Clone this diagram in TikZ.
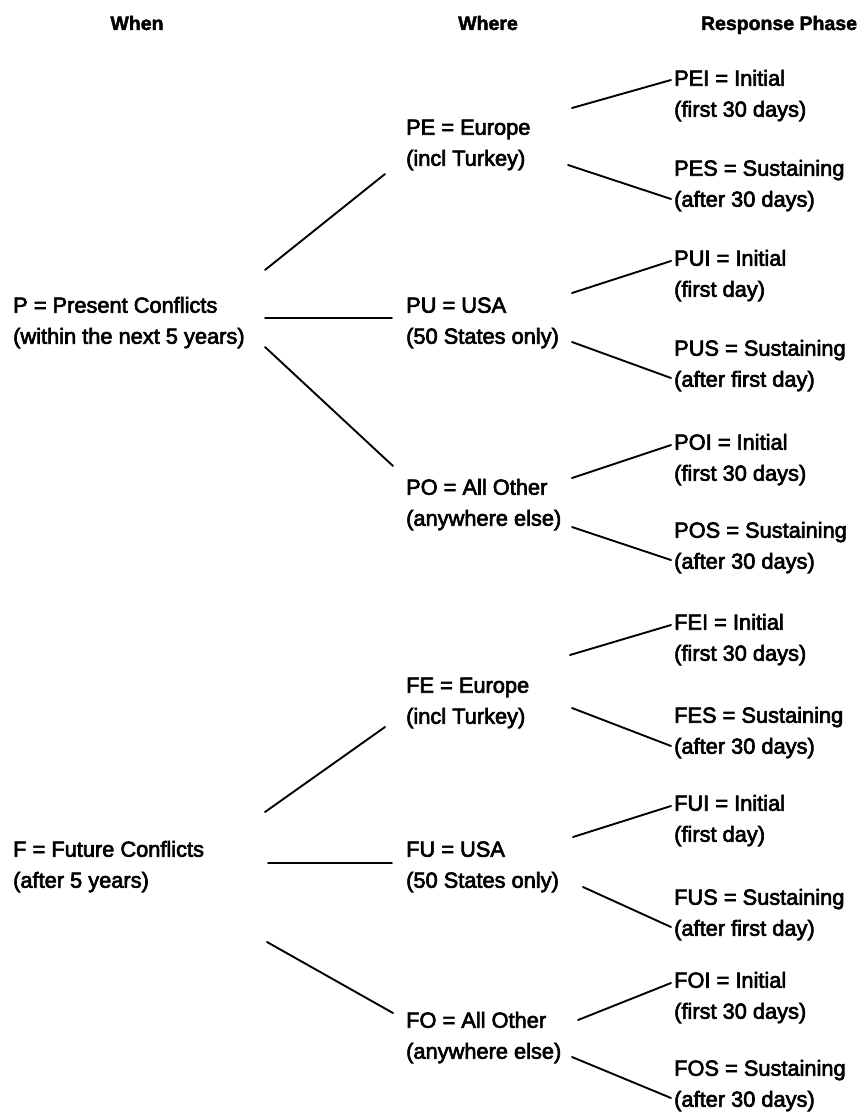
\documentclass[tikz,border=0pt]{standalone}
\usepackage{fontspec}
\setmainfont{Liberation Sans}
\newfontfamily\bodyfont[FakeBold=3]{Liberation Sans}
\newfontfamily\headfont[FakeBold=2]{Liberation Sans Bold}
\begin{document}
\begin{tikzpicture}[x=1pt,y=-1pt,
  lbl/.style={font=\bodyfont\fontsize{21.8}{31}\selectfont, align=left, inner sep=0pt, anchor=west},
  hdr/.style={font=\headfont\fontsize{19.5}{23}\selectfont, inner sep=0pt, anchor=base},
  conn/.style={line width=1.9pt, line cap=round}]
\useasboundingbox (0,0) rectangle (862,1115);
% headers
\node[hdr] (hwhen) at (137,30) {When};
\node[hdr] (hwhere) at (488,30) {Where};
\node[hdr] (hresp) at (779,30) {Response Phase};
% when
\node[lbl] (p) at (13,322) {\strut P = Present Conflicts\\\strut(within the next 5 years)};
\node[lbl] (f) at (13,866) {\strut F = Future Conflicts\\\strut(after 5 years)};
% where
\node[lbl] (pe) at (406,144) {\strut PE = Europe\\\strut(incl Turkey)};
\node[lbl] (pu) at (406,322) {\strut PU = USA\\\strut(50 States only)};
\node[lbl] (po) at (406,504) {\strut PO = All Other\\\strut(anywhere else)};
\node[lbl] (fe) at (406,702) {\strut FE = Europe\\\strut(incl Turkey)};
\node[lbl] (fu) at (406,866) {\strut FU = USA\\\strut(50 States only)};
\node[lbl] (fo) at (406,1037) {\strut FO = All Other\\\strut(anywhere else)};
% response phase
\node[lbl] (pei) at (674,95) {\strut PEI = Initial\\\strut(first 30 days)};
\node[lbl] (pes) at (674,185) {\strut PES = Sustaining\\\strut(after 30 days)};
\node[lbl] (pui) at (674,275) {\strut PUI = Initial\\\strut(first day)};
\node[lbl] (pus) at (674,365) {\strut PUS = Sustaining\\\strut(after first day)};
\node[lbl] (poi) at (674,459) {\strut POI = Initial\\\strut(first 30 days)};
\node[lbl] (pos) at (674,547) {\strut POS = Sustaining\\\strut(after 30 days)};
\node[lbl] (fei) at (674,639) {\strut FEI = Initial\\\strut(first 30 days)};
\node[lbl] (fes) at (674,732) {\strut FES = Sustaining\\\strut(after 30 days)};
\node[lbl] (fui) at (674,820) {\strut FUI = Initial\\\strut(first day)};
\node[lbl] (fus) at (674,914) {\strut FUS = Sustaining\\\strut(after first day)};
\node[lbl] (foi) at (674,997) {\strut FOI = Initial\\\strut(first 30 days)};
\node[lbl] (fos) at (674,1085) {\strut FOS = Sustaining\\\strut(after 30 days)};
% connector end points
\coordinate (p-pe-a) at (265,270);  \coordinate (p-pe-b) at (385,174);
\coordinate (p-pu-a) at (265,318);  \coordinate (p-pu-b) at (392,318);
\coordinate (p-po-a) at (265,347);  \coordinate (p-po-b) at (393,466);
\coordinate (pe-pei-a) at (572,108); \coordinate (pe-pei-b) at (671,80);
\coordinate (pe-pes-a) at (568,165); \coordinate (pe-pes-b) at (671,199);
\coordinate (pu-pui-a) at (572,293); \coordinate (pu-pui-b) at (671,261);
\coordinate (pu-pus-a) at (572,342); \coordinate (pu-pus-b) at (671,378);
\coordinate (po-poi-a) at (572,478); \coordinate (po-poi-b) at (671,445);
\coordinate (po-pos-a) at (572,527); \coordinate (po-pos-b) at (671,560);
\coordinate (f-fe-a) at (265,812);  \coordinate (f-fe-b) at (385,727);
\coordinate (f-fu-a) at (268,863);  \coordinate (f-fu-b) at (392,863);
\coordinate (f-fo-a) at (267,942);  \coordinate (f-fo-b) at (393,1013);
\coordinate (fe-fei-a) at (570,655); \coordinate (fe-fei-b) at (671,625);
\coordinate (fe-fes-a) at (572,708); \coordinate (fe-fes-b) at (671,746);
\coordinate (fu-fui-a) at (573,837); \coordinate (fu-fui-b) at (671,806);
\coordinate (fu-fus-a) at (583,887); \coordinate (fu-fus-b) at (671,927);
\coordinate (fo-foi-a) at (578,1020); \coordinate (fo-foi-b) at (671,983);
\coordinate (fo-fos-a) at (572,1057); \coordinate (fo-fos-b) at (671,1098);
% connectors
\foreach \a/\b in {p/pe,p/pu,p/po,pe/pei,pe/pes,pu/pui,pu/pus,po/poi,po/pos,
                   f/fe,f/fu,f/fo,fe/fei,fe/fes,fu/fui,fu/fus,fo/foi,fo/fos}
  \draw[conn] (\a-\b-a) -- (\a-\b-b);
\end{tikzpicture}
\end{document}
